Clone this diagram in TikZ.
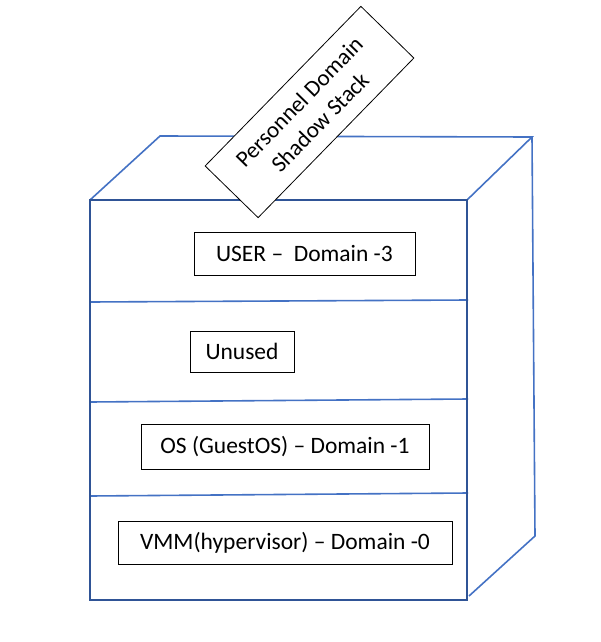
\documentclass[tikz,border=0pt]{standalone}
\usepackage{fontspec}
\setmainfont{Carlito}
\usetikzlibrary{positioning}
\definecolor{framebl}{RGB}{47,84,150}
\definecolor{linebl}{RGB}{68,114,196}
\tikzset{
    layerbox/.style = {rectangle, draw=black, line width=0.8pt, fill=white, inner sep=0pt, font=\fontsize{23.5}{27}\selectfont, text=black},
    tagbox/.style = {rectangle, draw=black, line width=0.8pt, fill=white, align=center, inner sep=0pt, font=\fontsize{23}{29}\selectfont, text=black},
    edgef/.style = {-, line width=2pt, framebl},
    edgel/.style = {-, line width=1.6pt, linebl},
}

\begin{document}
\begin{tikzpicture}[x=1pt,y=-1pt]
\useasboundingbox (0,0) rectangle (601,642);
% corners of the cabinet
\coordinate (ftl) at (90,200);
\coordinate (ftr) at (467,200);
\coordinate (fbl) at (90,600);
\coordinate (fbr) at (467,600);
\coordinate (btl) at (160,136);
\coordinate (btr) at (532,137);
\coordinate (bbr) at (535,536);
\coordinate (fbe) at (469,596);
%
\draw[edgel] (ftl) -- (btl) -- (btr) -- (ftr);
\draw[edgel] (btr) -- (bbr) -- (fbe);
\foreach \yl/\yr in {302/300,402/399,496/493}
    \draw[edgel] (90,\yl) -- (468,\yr);
\draw[edgef] (ftl) rectangle (fbr);

%
\node[layerbox, minimum width=221pt, minimum height=43pt] at (304.5,253.5) (user) {USER --\ \ Domain -3};
\node[layerbox, minimum width=104pt, minimum height=41pt] at (242,351.5) (unused) {Unused};
\node[layerbox, minimum width=288pt, minimum height=45pt] at (285,446.5) (guest) {OS (GuestOS) -- Domain -1};
\node[layerbox, minimum width=334pt, minimum height=43pt] at (285,542.5) (vmm) {VMM(hypervisor) -- Domain -0};
%
\node[tagbox, minimum width=223pt, minimum height=74pt, rotate=45.7] at (309.5,112) (tag) {Personnel Domain\\Shadow Stack};

\end{tikzpicture}
\end{document}
